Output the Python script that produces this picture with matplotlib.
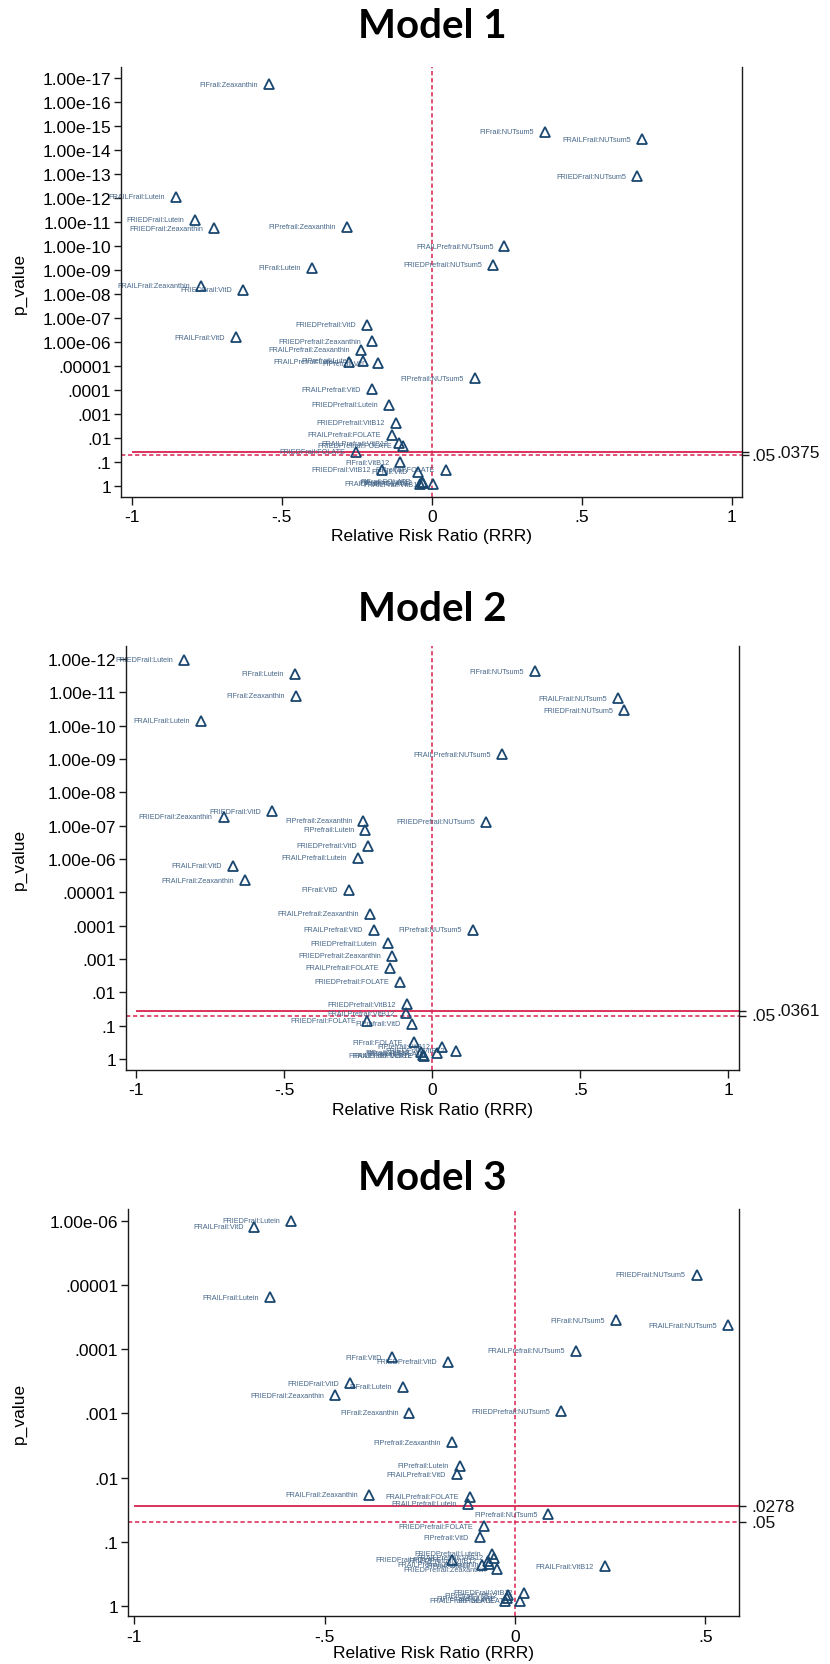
import matplotlib
matplotlib.use("Agg")
import matplotlib.pyplot as plt
from matplotlib.ticker import NullLocator
from matplotlib.transforms import blended_transform_factory

# ---------------- data ----------------
titles = ["Model 1", "Model 2", "Model 3"]

m1_labels = ["FIFrail:Zeaxanthin", "FRAILFrail:Lutein", "FRIEDFrail:Lutein", "FRIEDFrail:Zeaxanthin",
             "FIPrefrail:Zeaxanthin", "FIFrail:Lutein", "FRAILFrail:Zeaxanthin", "FRIEDFrail:VitD",
             "FIFrail:NUTsum5", "FRAILFrail:NUTsum5", "FRIEDFrail:NUTsum5", "FRAILPrefrail:NUTsum5",
             "FRIEDPrefrail:NUTsum5", "FRIEDPrefrail:VitD", "FRAILFrail:VitD", "FRIEDPrefrail:Zeaxanthin",
             "FRAILPrefrail:Zeaxanthin", "FRAILPrefrail:Lutein", "FIPrefrail:Lutein", "FIPrefrail:VitD",
             "FIPrefrail:NUTsum5", "FRAILPrefrail:VitD", "FRIEDPrefrail:Lutein", "FRIEDPrefrail:VitB12",
             "FRAILPrefrail:FOLATE", "FRAILPrefrail:VitB12", "FRIEDPrefrail:FOLATE", "FRIEDFrail:FOLATE",
             "FIFrail:VitB12", "FRIEDFrail:VitB12", "FIFrail:VitD", "FIPrefrail:FOLATE",
             "FIFrail:FOLATE", "FIPrefrail:VitB12", "FRAILFrail:FOLATE", "FRAILFrail:VitB12"]
m1_rrr = [-0.542, -0.852, -0.788, -0.726, -0.283, -0.401, -0.771, -0.628,
          0.377, 0.702, 0.685, 0.242, 0.203, -0.217, -0.652, -0.199,
          -0.237, -0.275, -0.228, -0.178, 0.143, -0.199, -0.143, -0.119,
          -0.132, -0.108, -0.095, -0.252, -0.105, -0.167, -0.045, 0.048,
          -0.033, -0.028, -0.040, 0.003]
m1_p = [1.74e-17, 8.5e-13, 7.9e-12, 1.74e-11, 1.51e-11, 7.8e-10, 4.4e-9, 6.5e-9,
        1.66e-15, 3.4e-15, 1.2e-13, 1.0e-10, 6.0e-10, 1.86e-7, 6.2e-7, 8.9e-7,
        2.0e-6, 6.5e-6, 5.9e-6, 7.6e-6, 3.2e-5, 9.1e-5, 4.1e-4, 2.3e-3,
        7.2e-3, 0.0158, 0.0204, 0.0363, 0.100, 0.209, 0.245, 0.209,
        0.646, 0.724, 0.776, 0.832]

m2_labels = ["FRIEDFrail:Lutein", "FIFrail:Lutein", "FIFrail:Zeaxanthin", "FRAILFrail:Lutein",
             "FRIEDFrail:VitD", "FRIEDFrail:Zeaxanthin", "FIPrefrail:Zeaxanthin", "FIPrefrail:Lutein",
             "FRIEDPrefrail:VitD", "FRAILPrefrail:Lutein", "FRAILFrail:VitD", "FRAILFrail:Zeaxanthin",
             "FIFrail:VitD", "FIFrail:NUTsum5", "FRAILFrail:NUTsum5", "FRIEDFrail:NUTsum5",
             "FRAILPrefrail:NUTsum5", "FRIEDPrefrail:NUTsum5", "FRAILPrefrail:Zeaxanthin", "FRAILPrefrail:VitD",
             "FIPrefrail:NUTsum5", "FRIEDPrefrail:Lutein", "FRIEDPrefrail:Zeaxanthin", "FRAILPrefrail:FOLATE",
             "FRIEDPrefrail:FOLATE", "FRIEDPrefrail:VitB12", "FRAILPrefrail:VitB12", "FRIEDFrail:FOLATE",
             "FIPrefrail:VitD", "FIFrail:FOLATE", "FIPrefrail:VitB12", "FRIEDFrail:VitB12",
             "FIPrefrail:FOLATE", "FIFrail:VitB12", "FRAILFrail:VitB12", "FRAILFrail:FOLATE"]
m2_rrr = [-0.838, -0.465, -0.460, -0.781, -0.541, -0.705, -0.233, -0.226,
          -0.217, -0.251, -0.674, -0.634, -0.281, 0.348, 0.626, 0.647,
          0.236, 0.181, -0.210, -0.197, 0.1375, -0.149, -0.136, -0.143,
          -0.109, -0.086, -0.090, -0.220, -0.070, -0.062, 0.032, 0.079,
          0.015, -0.039, -0.033, -0.028]
m2_p = [1.07e-12, 2.8e-12, 1.29e-11, 7.2e-11, 3.7e-8, 5.5e-8, 7.2e-8, 1.32e-7,
        4.0e-7, 9.1e-7, 1.62e-6, 4.4e-6, 8.3e-6, 2.3e-12, 1.51e-11, 3.5e-11,
        7.1e-10, 7.6e-8, 4.4e-5, 1.32e-4, 1.32e-4, 3.4e-4, 8.1e-4, 1.86e-3,
        4.9e-3, 0.0229, 0.0427, 0.0708, 0.089, 0.316, 0.427, 0.562,
        0.676, 0.631, 0.759, 0.794]

m3_labels = ["FRIEDFrail:Lutein", "FRAILFrail:VitD", "FRAILFrail:Lutein", "FIFrail:VitD",
             "FRIEDPrefrail:VitD", "FRIEDFrail:VitD", "FIFrail:Lutein", "FRIEDFrail:Zeaxanthin",
             "FIFrail:Zeaxanthin", "FRIEDFrail:NUTsum5", "FIFrail:NUTsum5", "FRAILFrail:NUTsum5",
             "FRAILPrefrail:NUTsum5", "FRIEDPrefrail:NUTsum5", "FIPrefrail:Zeaxanthin", "FIPrefrail:Lutein",
             "FRAILPrefrail:VitD", "FRAILFrail:Zeaxanthin", "FRAILPrefrail:FOLATE", "FRAILPrefrail:Lutein",
             "FIPrefrail:NUTsum5", "FRIEDPrefrail:FOLATE", "FIPrefrail:VitD", "FRIEDPrefrail:Lutein",
             "FRAILPrefrail:VitB12", "FRIEDFrail:FOLATE", "FRIEDPrefrail:VitB12", "FIFrail:VitB12",
             "FRAILPrefrail:Zeaxanthin", "FRIEDPrefrail:Zeaxanthin", "FRAILFrail:VitB12", "FRIEDFrail:VitB12",
             "FIPrefrail:VitB12", "FIPrefrail:FOLATE", "FRAILFrail:FOLATE", "FIFrail:FOLATE"]
m3_rrr = [-0.588, -0.684, -0.643, -0.322, -0.175, -0.433, -0.294, -0.472,
          -0.277, 0.477, 0.266, 0.560, 0.159, 0.120, -0.166, -0.144,
          -0.153, -0.384, -0.118, -0.124, 0.088, -0.080, -0.093, -0.061,
          -0.055, -0.165, -0.072, -0.087, -0.067, -0.048, 0.236, 0.024,
          -0.018, -0.022, -0.026, 0.013]
m3_p = [9.8e-7, 1.23e-6, 1.55e-5, 1.33e-4, 1.55e-4, 3.4e-4, 3.8e-4, 5.2e-4,
        9.8e-4, 6.8e-6, 3.5e-5, 4.2e-5, 1.05e-4, 9.3e-4, 2.8e-3, 6.6e-3,
        8.9e-3, 0.0186, 0.0200, 0.0257, 0.0372, 0.0575, 0.0851, 0.155,
        0.178, 0.191, 0.200, 0.234, 0.224, 0.269, 0.240, 0.631,
        0.692, 0.759, 0.832, 0.832]

alpha_line = 0.05
thresholds = [0.0375, 0.0361, 0.0278]
threshold_text = [".0375", ".0361", ".0278"]

m1_ytick_exp = list(range(0, 18))
m2_ytick_exp = list(range(0, 13))
m3_ytick_exp = list(range(0, 7))
m12_xticks = [-1, -0.5, 0, 0.5, 1]
m12_xticklabels = ["-1", "-.5", "0", ".5", "1"]
m3_xticks = [-1, -0.5, 0, 0.5]
m3_xticklabels = ["-1", "-.5", "0", ".5"]

# ---------------- layout / style ----------------
W, H, DPI = 830, 1665, 100
plt.rcParams['font.family'] = ['Liberation Sans', 'DejaVu Sans']
NAVY = '#1a476f'
LBL = '#456689'
RED = '#d8234f'
AXC = '#1a1a1a'

fig = plt.figure(figsize=(W / DPI, H / DPI), dpi=DPI)
fig.patch.set_facecolor('white')


def ptick(e):
    labels = {0: "1", 1: ".1", 2: ".01", 3: ".001", 4: ".0001", 5: ".00001"}
    return labels.get(e, "1.00e-%02d" % e)


panels = [
    dict(box=(121, 68, 742, 498), xlim=(-1.036, 1.034), klim=(-0.446, 17.47),
         labels=m1_labels, x=m1_rrr, p=m1_p, yexp=m1_ytick_exp,
         xt=m12_xticks, xtl=m12_xticklabels, title_y=26, thr_x2=776, xl_off=38),
    dict(box=(125.7, 647.3, 739.3, 1071), xlim=(-1.036, 1.037), klim=(-0.33, 12.38),
         labels=m2_labels, x=m2_rrr, p=m2_p, yexp=m2_ytick_exp,
         xt=m12_xticks, xtl=m12_xticklabels, title_y=610, thr_x2=776, xl_off=40),
    dict(box=(128, 1210, 739.3, 1617.3), xlim=(-1.016, 0.589), klim=(-0.165, 6.19),
         labels=m3_labels, x=m3_rrr, p=m3_p, yexp=m3_ytick_exp,
         xt=m3_xticks, xtl=m3_xticklabels, title_y=1179, thr_x2=751, xl_off=36),
]

for i, pn in enumerate(panels):
    l, t, r, b = pn['box']
    ax = fig.add_axes([l / W, 1 - b / H, (r - l) / W, (b - t) / H])
    ax.set_yscale('log')
    ax.set_xlim(*pn['xlim'])
    ax.set_ylim(10 ** (-pn['klim'][0]), 10 ** (-pn['klim'][1]))
    ax.yaxis.set_minor_locator(NullLocator())
    ax.set_yticks([10.0 ** (-e) for e in pn['yexp']])
    ax.set_yticklabels([ptick(e) for e in pn['yexp']])
    ax.set_xticks(pn['xt'])
    ax.set_xticklabels(pn['xtl'])
    ax.tick_params(axis='y', direction='out', length=5, width=1.0, color=AXC,
                   labelsize=12.5, pad=2)
    ax.tick_params(axis='x', direction='out', length=6, width=1.0, color=AXC,
                   labelsize=12.5, pad=3)
    for s in ['left', 'bottom', 'right']:
        ax.spines[s].set_color(AXC)
        ax.spines[s].set_linewidth(1.0)
    ax.spines['top'].set_visible(False)

    dash = (0, (2.8, 1.8))
    ax.axvline(0, color=RED, lw=1.1, ls=dash, zorder=1)
    ax.axhline(alpha_line, color=RED, lw=1.1, ls=dash, zorder=1)
    ax.hlines(thresholds[i], pn['xt'][0], pn['xlim'][1], color=RED, lw=1.3, zorder=1)

    ax.plot(pn['x'], pn['p'], ls='none', marker='^', ms=7, mfc='none',
            mec=NAVY, mew=1.3, zorder=3)
    for lab, xv, pv in zip(pn['labels'], pn['x'], pn['p']):
        ax.annotate(lab, (xv, pv), xytext=(-11, 0), textcoords='offset pixels',
                    ha='right', va='center', fontsize=5.2, color=LBL,
                    annotation_clip=False, zorder=2)

    # right axis with threshold ticks
    ax2 = ax.twinx()
    ax2.set_yscale('log')
    ax2.set_ylim(ax.get_ylim())
    ax2.yaxis.set_minor_locator(NullLocator())
    ax2.set_yticks([alpha_line, thresholds[i]])
    ax2.set_yticklabels(["", ""])
    ax2.tick_params(axis='y', direction='out', length=5, width=1.0, color=AXC)
    for s in ['left', 'bottom', 'top', 'right']:
        ax2.spines[s].set_visible(False)

    trans = blended_transform_factory(fig.transFigure, ax.transData)
    ax.text(751 / W, alpha_line, ".05", transform=trans, ha='left', va='center',
            fontsize=12.5, color='#111111')
    ax.text(pn['thr_x2'] / W, thresholds[i], threshold_text[i], transform=trans,
            ha='left', va='center', fontsize=12.5, color='#111111')

    ax.set_xlabel("Relative Risk Ratio (RRR)", fontsize=12.5)
    ax.xaxis.label.set_va('center')
    ax.xaxis.set_label_coords(0.5, -(pn['xl_off'] / (b - t)))
    ax.set_ylabel("p_value", fontsize=12.5)
    ax.yaxis.label.set_va('center')
    ax.yaxis.set_label_coords(-((l - 19) / (r - l)), 0.5)

    fig.text(432 / W, 1 - pn['title_y'] / H, titles[i], ha='center', va='center',
             fontsize=29, fontweight='bold', family=['Lato', 'DejaVu Sans'])

fig.savefig("out.png", dpi=DPI, facecolor='white')
